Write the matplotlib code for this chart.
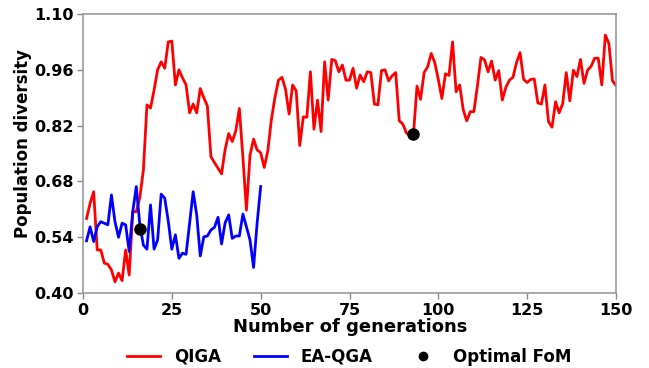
import matplotlib
matplotlib.use("Agg")
import matplotlib.pyplot as plt
import numpy as np

plt.rcParams['font.family'] = ['DejaVu Sans']
plt.rcParams['font.weight'] = 'bold'

qiga_gen = list(range(1, 151))
qiga = [0.587, 0.625, 0.654, 0.508, 0.508, 0.475, 0.472, 0.458, 0.428, 0.450,
        0.431, 0.508, 0.445, 0.604, 0.604, 0.640, 0.709, 0.872, 0.864, 0.909,
        0.960, 0.980, 0.964, 1.030, 1.032, 0.922, 0.960, 0.940, 0.922, 0.852,
        0.874, 0.852, 0.913, 0.890, 0.869, 0.742, 0.727, 0.713, 0.699, 0.760,
        0.800, 0.780, 0.807, 0.863, 0.740, 0.608, 0.746, 0.786, 0.759, 0.752,
        0.715, 0.756, 0.834, 0.890, 0.934, 0.941, 0.911, 0.849, 0.922, 0.907,
        0.770, 0.842, 0.841, 0.955, 0.811, 0.884, 0.805, 0.980, 0.884, 0.986,
        0.983, 0.955, 0.972, 0.934, 0.934, 0.964, 0.914, 0.947, 0.930, 0.955,
        0.953, 0.874, 0.872, 0.958, 0.960, 0.932, 0.945, 0.953, 0.832, 0.824,
        0.802, 0.795, 0.799, 0.919, 0.886, 0.953, 0.968, 1.001, 0.978, 0.935,
        0.888, 0.950, 0.946, 1.030, 0.905, 0.922, 0.860, 0.832, 0.855, 0.855,
        0.920, 0.991, 0.985, 0.955, 0.982, 0.934, 0.958, 0.884, 0.916, 0.934,
        0.941, 0.978, 1.003, 0.936, 0.928, 0.936, 0.937, 0.877, 0.874, 0.922,
        0.830, 0.816, 0.880, 0.852, 0.875, 0.953, 0.882, 0.959, 0.943, 0.986,
        0.926, 0.959, 0.969, 0.989, 0.989, 0.922, 1.047, 1.026, 0.933, 0.920]

eaqga_gen = list(range(1, 51))
eaqga = [0.531, 0.566, 0.529, 0.566, 0.579, 0.575, 0.571, 0.646, 0.579, 0.540,
         0.575, 0.571, 0.504, 0.604, 0.667, 0.571, 0.520, 0.510, 0.621, 0.510,
         0.533, 0.648, 0.638, 0.580, 0.510, 0.546, 0.487, 0.500, 0.497, 0.575,
         0.654, 0.596, 0.493, 0.541, 0.543, 0.558, 0.565, 0.590, 0.523, 0.576,
         0.596, 0.537, 0.543, 0.543, 0.598, 0.566, 0.533, 0.464, 0.575, 0.667]

opt_gen = [16, 93]
opt_val = [0.560, 0.799]

xticks = [0, 25, 50, 75, 100, 125, 150]
yticks = [0.40, 0.54, 0.68, 0.82, 0.96, 1.10]

W, H = 649, 368
fig = plt.figure(figsize=(W / 100, H / 100), dpi=100)
ax = fig.add_axes([83 / W, 1 - 293 / H, (616 - 83) / W, (293 - 14) / H])

ax.plot(qiga_gen, qiga, color='red', lw=2.0, label='QIGA')
ax.plot(eaqga_gen, eaqga, color='blue', lw=2.0, label='EA-QGA')
ax.plot(opt_gen, opt_val, 'o', color='black', ms=8, ls='none', label='Optimal FoM', zorder=5)

ax.set_xlim(0, 150)
ax.set_ylim(0.40, 1.10)
ax.set_xticks(xticks)
ax.set_yticks(yticks)
ax.set_yticklabels([f"{v:.2f}" for v in yticks])
for lab in ax.get_xticklabels() + ax.get_yticklabels():
    lab.set_fontweight('bold')
    lab.set_fontsize(11.5)
ax.tick_params(axis='both', colors='#888888', labelcolor='black', length=4, width=1, pad=3)
for s in ax.spines.values():
    s.set_color('#999999')
    s.set_linewidth(1.2)

fig.text(350 / W, 1 - 327 / H, 'Number of generations', fontsize=13, fontweight='bold',
         ha='center', va='center')
fig.text(23 / W, 1 - 144 / H, 'Population diversity', fontsize=12, fontweight='bold',
         ha='center', va='center', rotation=90)

leg = fig.legend(loc='center', bbox_to_anchor=(349 / W, 1 - 356.5 / H), ncol=3, frameon=False,
                 prop={'weight': 'bold', 'size': 12}, handlelength=2.0, columnspacing=2.0,
                 markerscale=0.75)

fig.savefig('out.png', dpi=100)
